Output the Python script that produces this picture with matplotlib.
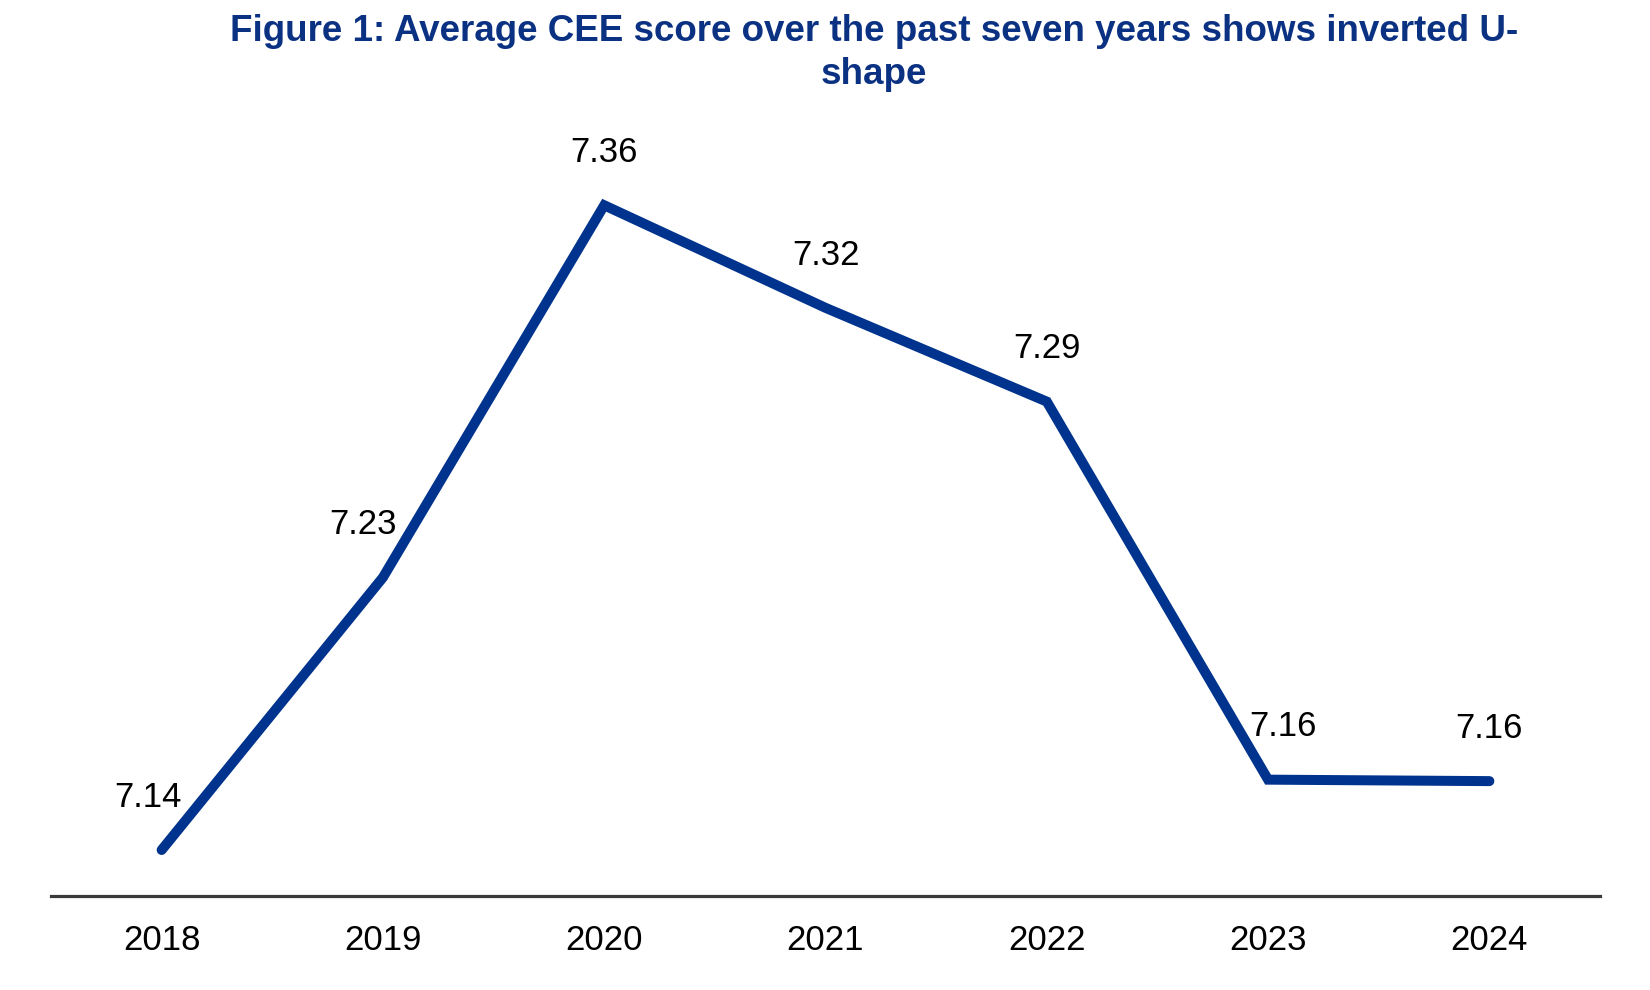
import matplotlib
matplotlib.use('Agg')
import matplotlib.pyplot as plt

plt.rcParams['font.family'] = ['Liberation Sans', 'DejaVu Sans']

years = ['2018', '2019', '2020', '2021', '2022', '2023', '2024']
scores = [7.140, 7.233, 7.360, 7.325, 7.293, 7.164, 7.1635]
score_labels = ['7.14', '7.23', '7.36', '7.32', '7.29', '7.16', '7.16']
# small horizontal nudges of the data labels (points)
label_dx = [-10, -14, 0, 0, 0, 11, 0]

title_1 = 'Figure 1: Average CEE score over the past seven years shows inverted U-'
title_2 = 'shape'

line_color = '#00338D'
title_color = '#0B3182'

fig = plt.figure(figsize=(16.5, 9.9), dpi=100)
ax = fig.add_axes([51 / 1650, 94 / 990, 1549 / 1650, 798 / 990])

x = list(range(len(years)))
ax.plot(x, scores, color=line_color, linewidth=7.2, solid_capstyle='round', solid_joinstyle='miter')

for i in range(len(x)):
    ax.annotate(score_labels[i], (x[i], scores[i]), xytext=(label_dx[i], 38),
                textcoords='offset points', ha='center', va='center', fontsize=25, color='black')

ax.set_xlim(-0.5, len(years) - 0.5)
ax.set_ylim(7.1243, 7.3966)
ax.set_xticks(x)
ax.set_xticklabels(years, fontsize=25)
ax.set_yticks([])
for side in ['top', 'left', 'right']:
    ax.spines[side].set_visible(False)
ax.spines['bottom'].set_linewidth(2.3)
ax.spines['bottom'].set_color('#3a3a3a')
ax.tick_params(axis='x', length=0, pad=20)

fig.text(874 / 1650, 1 - 41 / 990, title_1, ha='center', va='baseline', fontsize=26.5,
         fontweight='bold', color=title_color)
fig.text(874 / 1650, 1 - 84 / 990, title_2, ha='center', va='baseline', fontsize=26.5,
         fontweight='bold', color=title_color)

fig.savefig('out.png', dpi=100, facecolor='white')
